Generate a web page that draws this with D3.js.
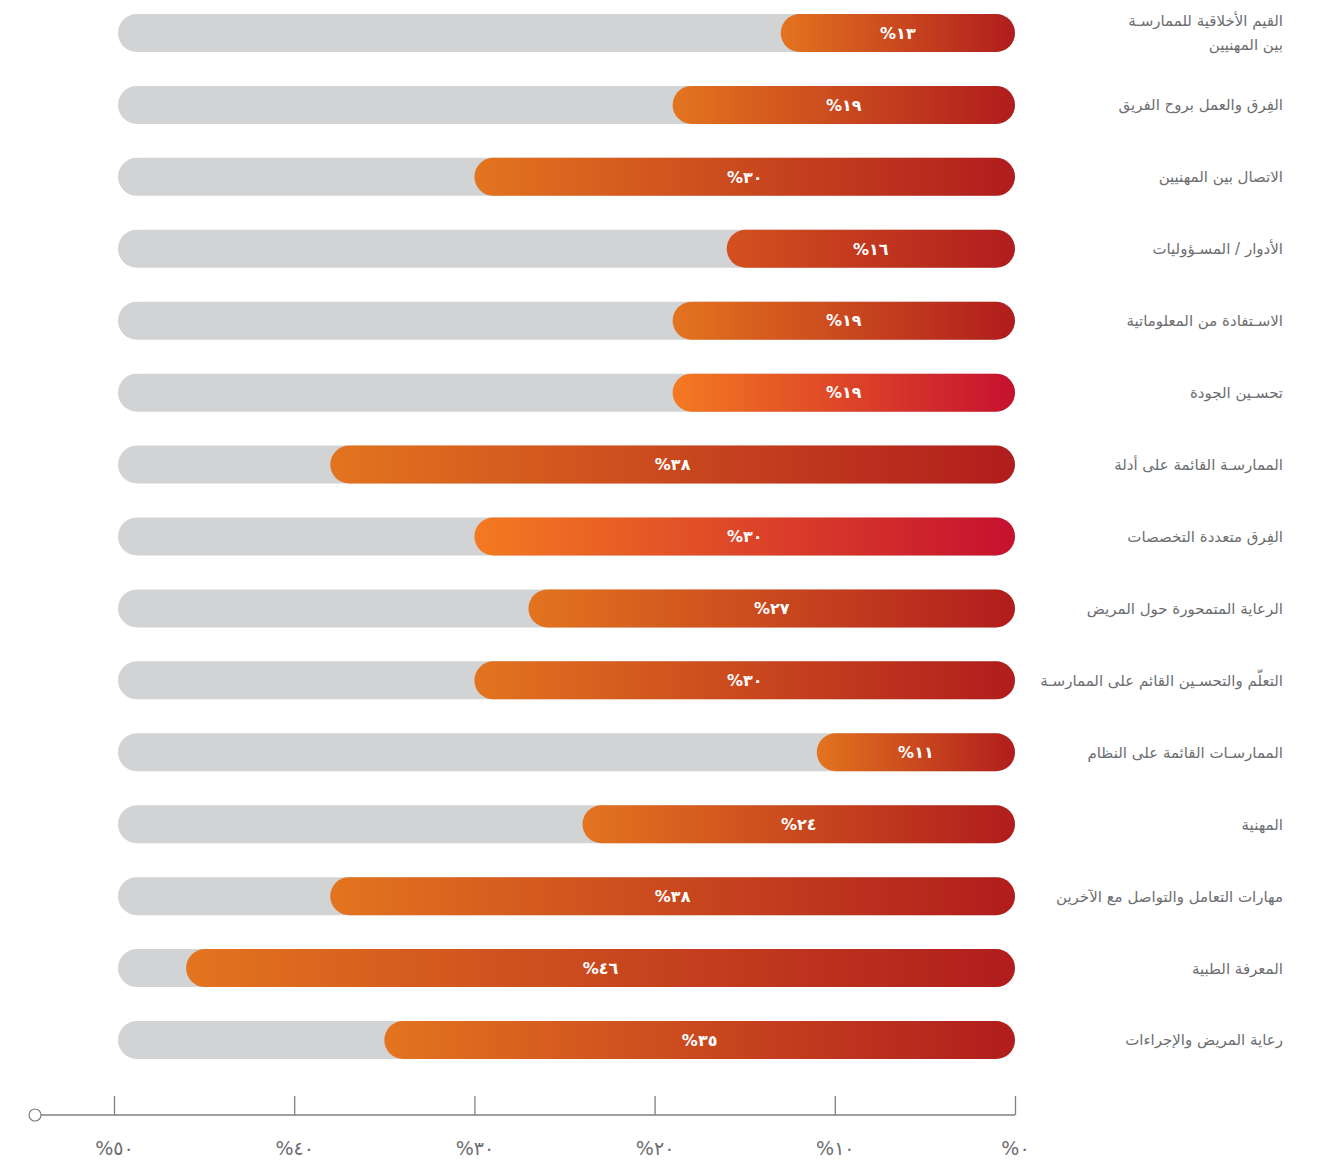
<!DOCTYPE html>
<html>
<head>
<meta charset="utf-8">
<script src="https://cdn.jsdelivr.net/npm/d3@7"></script>
<style>
  html, body { margin: 0; padding: 0; background: #ffffff; }
  svg { display: block; }
</style>
</head>
<body>
<svg id="chart" width="1325" height="1163"></svg>
<script>
// ---- data ----
const categories = [
  ["القيم الأخلاقية للممارسـة", "بين المهنيين"],
  ["الفِرق والعمل بروح الفريق"],
  ["الاتصال بين المهنيين"],
  ["الأدوار / المسـؤوليات"],
  ["الاسـتفادة من المعلوماتية"],
  ["تحسـين الجودة"],
  ["الممارسـة القائمة على أدلة"],
  ["الفِرق متعددة التخصصات"],
  ["الرعاية المتمحورة حول المريض"],
  ["التعلّم والتحسـين القائم على الممارسـة"],
  ["الممارسـات القائمة على النظام"],
  ["المهنية"],
  ["مهارات التعامل والتواصل مع الآخرين"],
  ["المعرفة الطبية"],
  ["رعاية المريض والإجراءات"]
];
const values = [13, 19, 30, 16, 19, 19, 38, 30, 27, 30, 11, 24, 38, 46, 35];
const axisTicks = [0, 10, 20, 30, 40, 50];
const axisMax = 50;

// ---- styles (not data) ----
const gradientPalettes = {
  normal:  ["#e3741f", "#b01d1d"],
  crimson: ["#f47a21", "#c6112f"],
  dark:    ["#d3511f", "#b01d1d"]
};
const rowPalette = i => (i === 5 || i === 7) ? "crimson" : (i === 3 ? "dark" : "normal");

const arabicDigits = "٠١٢٣٤٥٦٧٨٩";
const toArabic = n => String(n).split("").map(c => arabicDigits[+c]).join("");
const pct = n => "%" + toArabic(n);

const svg = d3.select("#chart");
const x = d3.scaleLinear().domain([0, axisMax]).range([1015, 114]);
const y = d3.scaleBand().domain(d3.range(categories.length)).range([-3, 1076]).paddingInner(0.47).paddingOuter(0.235);
const barH = 38;

const defs = svg.append("defs");
Object.entries(gradientPalettes).forEach(([k, c]) => {
  const g = defs.append("linearGradient").attr("id", "grad-" + k)
    .attr("x1", "0%").attr("x2", "100%").attr("y1", "0%").attr("y2", "0%");
  g.append("stop").attr("offset", "0%").attr("stop-color", c[0]);
  g.append("stop").attr("offset", "100%").attr("stop-color", c[1]);
});

const rows = svg.append("g").selectAll("g.row")
  .data(values.map((v, i) => ({ v, i, label: categories[i] })))
  .join("g").attr("class", "row")
  .attr("transform", d => `translate(0,${y(d.i) + y.bandwidth() / 2})`);

// background track
rows.append("rect")
  .attr("x", x(axisMax) + 4)
  .attr("y", -barH / 2)
  .attr("width", x(0) - x(axisMax) - 4)
  .attr("height", barH)
  .attr("rx", barH / 2)
  .attr("fill", "#d1d3d4");

// value bar
rows.append("rect")
  .attr("x", d => x(d.v))
  .attr("y", -barH / 2)
  .attr("width", d => x(0) - x(d.v))
  .attr("height", barH)
  .attr("rx", barH / 2)
  .attr("fill", d => `url(#grad-${rowPalette(d.i)})`);

// value label
rows.append("text")
  .attr("x", d => (x(d.v) + x(0)) / 2)
  .attr("y", 0)
  .attr("dy", "0.36em")
  .attr("text-anchor", "middle")
  .attr("direction", "ltr")
  .attr("font-family", "DejaVu Sans, sans-serif")
  .attr("font-weight", "bold")
  .attr("font-size", 16)
  .attr("fill", "#ffffff")
  .text(d => pct(d.v));

// category labels
rows.each(function(d) {
  const t = d3.select(this).append("text")
    .attr("x", 1283)
    .attr("text-anchor", "end")
    .attr("font-family", "DejaVu Sans, sans-serif")
    .attr("font-size", 15)
    .attr("fill", "#6d6e71");
  const n = d.label.length;
  d.label.forEach((line, k) => {
    t.append("tspan")
      .attr("x", 1283)
      .attr("y", (k - (n - 1) / 2) * 24)
      .attr("dy", "0.36em")
      .text(line);
  });
});

// axis
const axisY = 1115;
const axisG = svg.append("g").attr("transform", `translate(0,${axisY})`);
axisG.append("line")
  .attr("x1", x(axisMax) - 79).attr("x2", x(0))
  .attr("y1", 0).attr("y2", 0)
  .attr("stroke", "#808080").attr("stroke-width", 1.5);
axisG.append("circle")
  .attr("cx", x(axisMax) - 79).attr("cy", 0).attr("r", 6)
  .attr("fill", "#ffffff").attr("stroke", "#808080").attr("stroke-width", 1.2);

const axis = d3.axisBottom(x).tickValues(axisTicks).tickFormat(pct)
  .tickSizeInner(-19).tickSizeOuter(0).tickPadding(27);
const ag = axisG.append("g").call(axis);
ag.select(".domain").remove();
ag.selectAll(".tick line").attr("stroke", "#808080").attr("stroke-width", 1.3);
ag.selectAll(".tick text")
  .attr("font-family", "DejaVu Sans, sans-serif")
  .attr("font-size", 19)
  .attr("direction", "ltr")
  .attr("fill", "#6d6e71");
</script>
</body>
</html>
